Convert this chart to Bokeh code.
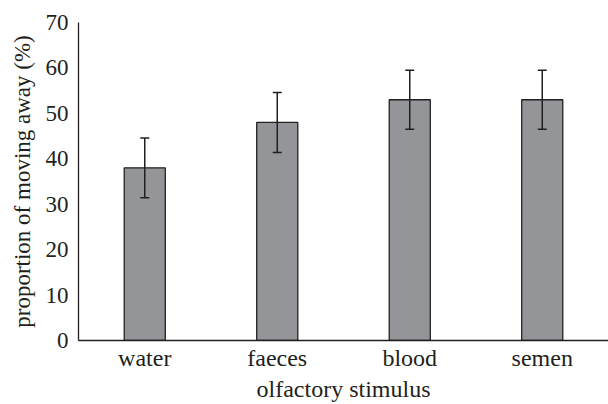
from bokeh.plotting import figure
from bokeh.models import ColumnDataSource, FactorRange, Whisker, TeeHead, FixedTicker
from bokeh.embed import file_html
from bokeh.resources import INLINE

categories = ["water", "faeces", "blood", "semen"]
means = [38, 48, 53, 53]
errors = [6.6, 6.6, 6.5, 6.5]
y_ticks = [0, 10, 20, 30, 40, 50, 60, 70]

src = ColumnDataSource(dict(
    cat=categories,
    mean=means,
    upper=[m + e for m, e in zip(means, errors)],
    lower=[m - e for m, e in zip(means, errors)],
))

FONT = "'Liberation Serif', 'Times New Roman', serif"
TXT = "#231f20"

p = figure(width=608, height=404, output_backend="svg", toolbar_location=None,
           x_range=FactorRange(factors=categories, start=0, end=3.955),
           y_range=(0, 70),
           min_border_left=78, min_border_top=22, min_border_bottom=63, min_border_right=0)

p.vbar(x="cat", top="mean", width=0.31, source=src,
       fill_color="#939598", line_color=TXT, line_width=1.3)

w = Whisker(base="cat", upper="upper", lower="lower", source=src,
            line_color=TXT, line_width=1.5, level="overlay",
            upper_head=TeeHead(size=9, line_color=TXT, line_width=1.5),
            lower_head=TeeHead(size=9, line_color=TXT, line_width=1.5))
p.add_layout(w)

p.outline_line_color = None
p.xgrid.grid_line_color = None
p.ygrid.grid_line_color = None

p.yaxis.ticker = FixedTicker(ticks=y_ticks)
p.yaxis.axis_label = "proportion of moving away (%)"
p.xaxis.axis_label = "olfactory stimulus"

for ax in (p.xaxis[0], p.yaxis[0]):
    ax.major_tick_line_color = None
    ax.minor_tick_line_color = None
    ax.major_tick_out = 0
    ax.major_tick_in = 0
    ax.axis_line_color = TXT
    ax.axis_line_width = 1.3
    ax.major_label_text_font = FONT
    ax.major_label_text_color = TXT
    ax.axis_label_text_font = FONT
    ax.axis_label_text_font_style = "normal"
    ax.axis_label_text_color = TXT

p.yaxis.major_label_text_font_size = "23px"
p.yaxis.axis_label_text_font_size = "23px"
p.xaxis.major_label_text_font_size = "24px"
p.xaxis.axis_label_text_font_size = "24px"

p.yaxis.major_label_standoff = 10
p.yaxis.axis_label_standoff = 8
p.xaxis.major_label_standoff = 4
p.xaxis.axis_label_standoff = 2

open("out.html", "w").write(file_html(p, INLINE))
